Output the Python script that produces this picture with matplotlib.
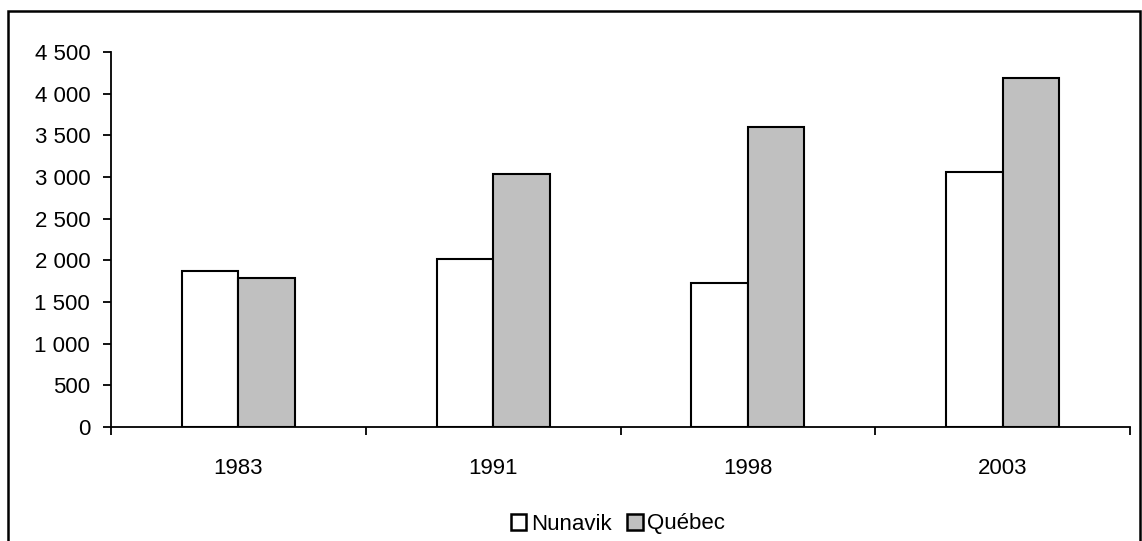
import numpy as np
import matplotlib.pyplot as plt
from matplotlib.patches import Patch, Rectangle

# values
years = ["1983", "1991", "1998", "2003"]
nunavik = [1870, 2020, 1725, 3065]
quebec = [1785, 3035, 3595, 4190]
y_ticks = [0, 500, 1000, 1500, 2000, 2500, 3000, 3500, 4000, 4500]

plt.rcParams["font.family"] = ["Liberation Sans", "DejaVu Sans"]
FS = 16

W, H = 1142, 541
fig = plt.figure(figsize=(W / 100, H / 100), dpi=100)
ax = fig.add_axes([111 / W, 1 - 427 / H, (1130 - 111) / W, (427 - 52) / H])

x = np.arange(len(years))
bw = 0.222
ax.bar(x - bw / 2, nunavik, bw, color="white", edgecolor="black", linewidth=1.5)
ax.bar(x + bw / 2, quebec, bw, color="#C0C0C0", edgecolor="black", linewidth=1.5)

ax.set_xlim(-0.5, len(years) - 0.5)
ax.set_ylim(0, 4500)

# ticks on category boundaries, labels in the middle
ax.set_xticks(np.arange(-0.5, len(years), 1))
ax.set_xticklabels([])
ax.set_xticks(x, minor=True)
ax.set_xticklabels(years, minor=True, fontsize=FS)
ax.tick_params(axis="x", which="major", direction="out", length=6, width=1.3)
ax.tick_params(axis="x", which="minor", length=0, pad=22)

ax.set_yticks(y_ticks)
ax.set_yticklabels([f"{v:,}".replace(",", " ") for v in y_ticks], fontsize=FS)
ax.tick_params(axis="y", direction="out", length=6, width=1.3, pad=9)

for side in ["top", "right"]:
    ax.spines[side].set_visible(False)
for side in ["left", "bottom"]:
    ax.spines[side].set_linewidth(1.3)

handles = [
    Patch(facecolor="white", edgecolor="black", linewidth=1.8, label="Nunavik"),
    Patch(facecolor="#C0C0C0", edgecolor="black", linewidth=1.8, label="Québec"),
]
fig.legend(handles=handles, loc="center", bbox_to_anchor=(618 / W, 1 - 524 / H),
           ncol=2, frameon=False, fontsize=FS, handlelength=0.7, handleheight=0.7,
           handletextpad=0.2, columnspacing=0.7, borderaxespad=0)

# outer chart frame (bottom edge runs off the image)
fig.patches.append(Rectangle((8 / W, -0.1), (1140 - 8) / W, 1 - 11 / H + 0.1,
                             transform=fig.transFigure, fill=False,
                             edgecolor="black", linewidth=1.8, clip_on=False))

fig.savefig("out.png", dpi=100)
